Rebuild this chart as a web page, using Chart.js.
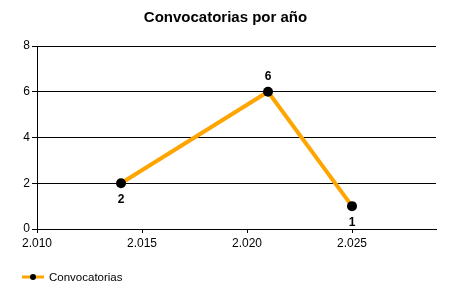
<!DOCTYPE html>
<html>
<head>
<meta charset="utf-8">
<script src="https://cdn.jsdelivr.net/npm/chart.js@4"></script>
<style>
  html, body { margin: 0; padding: 0; background: #fff; }
  canvas { display: block; }
</style>
</head>
<body>
<canvas id="chart" width="450" height="300"></canvas>
<script>
// datos
const years = [2014, 2021, 2025];
const convocatorias = [2, 6, 1];
const labelPos = ["below", "above", "below"];
const xTicks = [2010, 2015, 2020, 2025];
const yTicks = [0, 2, 4, 6, 8];
const seriesName = "Convocatorias";
const chartTitle = "Convocatorias por año";

const ORANGE = "#FFA500";
const FONT = "'Liberation Sans', Arial, sans-serif";

// 2010 -> "2.010"
function fmt(v) {
  return String(v).replace(/\B(?=(\d{3})+(?!\d))/g, ".");
}

// título, etiquetas de valor y leyenda dibujados a mano
const extras = {
  id: "extras",
  afterDatasetsDraw(chart) {
    const ctx = chart.ctx;
    const meta = chart.getDatasetMeta(0);
    ctx.save();
    ctx.fillStyle = "#000";
    ctx.textAlign = "center";
    ctx.textBaseline = "middle";

    // título centrado en el lienzo
    ctx.font = "bold 15px " + FONT;
    ctx.fillText(chartTitle, chart.width / 2 + 0.5, 18);

    ctx.font = "bold 12px " + FONT;
    meta.data.forEach((pt, i) => {
      const dy = labelPos[i] === "above" ? -15.5 : 16.5;
      ctx.fillText(String(convocatorias[i]), pt.x, pt.y + dy);
    });

    // leyenda
    const ly = 277;
    ctx.strokeStyle = ORANGE;
    ctx.lineWidth = 3;
    ctx.beginPath();
    ctx.moveTo(22, ly);
    ctx.lineTo(44, ly);
    ctx.stroke();
    ctx.beginPath();
    ctx.arc(33, ly, 3, 0, Math.PI * 2);
    ctx.fill();
    ctx.font = "11.5px " + FONT;
    ctx.textAlign = "left";
    ctx.fillText(seriesName, 49, ly + 1);
    ctx.restore();
  },
};

new Chart(document.getElementById("chart"), {
  type: "line",
  data: {
    datasets: [
      {
        label: seriesName,
        data: years.map((y, i) => ({ x: y, y: convocatorias[i] })),
        borderColor: ORANGE,
        borderWidth: 4,
        pointBackgroundColor: "#000",
        pointBorderColor: "#000",
        pointRadius: 5,
        pointBorderWidth: 0,
        tension: 0,
      },
    ],
  },
  options: {
    responsive: false,
    animation: false,
    layout: { padding: { left: 0, right: 14, top: 46, bottom: 0 } },
    plugins: {
      legend: { display: false },
      tooltip: { enabled: false },
      title: { display: false },
    },
    scales: {
      x: {
        type: "linear",
        min: 2010,
        max: 2029,
        afterBuildTicks: (s) => { s.ticks = xTicks.map((v) => ({ value: v })); },
        afterFit: (s) => { s.height = 71; },
        grid: { drawOnChartArea: false, drawTicks: true, tickLength: 4, color: "#000" },
        border: { color: "#000", width: 1 },
        ticks: {
          color: "#000",
          padding: 3,
          maxRotation: 0,
          font: { family: FONT, size: 12 },
          callback: (v) => fmt(v),
        },
      },
      y: {
        min: 0,
        max: 8,
        afterBuildTicks: (s) => { s.ticks = yTicks.map((v) => ({ value: v })); },
        afterFit: (s) => { s.width = 37; },
        grid: { color: "#000", lineWidth: 1, tickLength: 5 },
        border: { color: "#000", width: 1 },
        ticks: {
          color: "#000",
          padding: 2,
          font: { family: FONT, size: 12 },
        },
      },
    },
  },
  plugins: [extras],
});
</script>
</body>
</html>
